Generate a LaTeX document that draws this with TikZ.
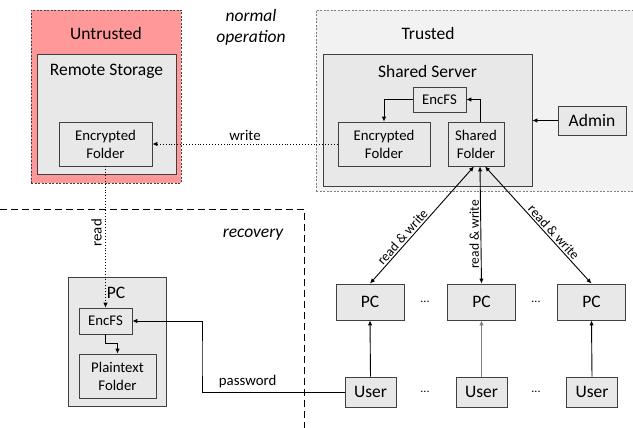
\documentclass[tikz,border=0pt]{standalone}
\usepackage{fontspec}
\setmainfont{Carlito}
\usepackage{xcolor}
\definecolor{ured}{RGB}{255,153,153}
\definecolor{tgray}{RGB}{242,242,242}
\definecolor{bgray}{RGB}{232,232,232}
\definecolor{dline}{RGB}{64,64,64}
\usepackage{tikz}
\usetikzlibrary{arrows.meta,positioning,calc}

\begin{document}
\begin{tikzpicture}[x=1pt,y=-1pt,
  big/.style={font=\fontsize{17.5}{21}\selectfont},
  small/.style={font=\fontsize{14.8}{18}\selectfont},
  tiny/.style={font=\fontsize{13.5}{16}\selectfont},
  box/.style={draw=dline,fill=bgray,line width=0.8pt,inner sep=0pt,align=center},
  arr/.style={-{Latex[length=5pt,width=4.5pt]},line width=0.9pt},
  biarr/.style={{Latex[length=5pt,width=4.5pt]}-{Latex[length=5pt,width=4.5pt]},line width=0.9pt}]
  \useasboundingbox (0,0) rectangle (633,428);
  \clip (0,0) rectangle (633,428);

  % zones
  \node[draw=gray,fill=tgray,dash pattern=on 2pt off 1.5pt,line width=0.9pt,
        minimum width=329,minimum height=181] (trusted) at (480.5,100.5) {};
  \node[big] (trustedlbl) at (428,33) {Trusted};
  \node[draw=dline,fill=ured,dash pattern=on 2pt off 1.5pt,line width=0.9pt,
        minimum width=150,minimum height=173] (untrusted) at (106,96.5) {};
  \node[big] (untrustedlbl) at (106,33) {Untrusted};
  \node[big,font=\fontsize{17.5}{21}\selectfont\itshape,align=center] (normal) at (251,27) {normal\\operation};
  \draw[line width=0.9pt,dash pattern=on 7pt off 4pt] (0,209) -- (304,209) -- (304,428);
  \node[big,font=\fontsize{17.5}{21}\selectfont\itshape] (recovery) at (253,235) {recovery};

  % remote storage
  \node[box,minimum width=139,minimum height=120] (remote) at (106.5,114) {};
  \node[big] (remotelbl) at (106.5,71) {Remote Storage};
  \node[box,small,minimum width=93,minimum height=44] (encU) at (105.5,144) {Encrypted\\Folder};

  % shared server
  \node[box,minimum width=209,minimum height=132] (server) at (427.5,120) {};
  \node[big] (serverlbl) at (427.5,71) {Shared Server};
  \node[box,small,minimum width=53,minimum height=25] (encfsS) at (439.5,99.5) {EncFS};
  \node[box,small,minimum width=92,minimum height=44] (encS) at (384,144) {Encrypted\\Folder};
  \node[box,small,minimum width=56,minimum height=44] (shared) at (476,144) {Shared\\Folder};
  \node[box,big,minimum width=68,minimum height=29] (admin) at (592,120.5) {Admin};

  % recovery PC
  \node[box,minimum width=98,minimum height=129] (pcR) at (117,341.5) {};
  \node[big] (pcRlbl) at (116,293) {PC};
  \node[box,small,minimum width=53,minimum height=26] (encfsR) at (105.5,321) {EncFS};
  \node[box,small,minimum width=77,minimum height=44] (plain) at (117.5,376) {Plaintext\\Folder};

  % clients
  \foreach \i/\x in {1/370,2/481.5,3/591.5} {
    \node[box,big,minimum width=68,minimum height=36] (pc\i) at (\x,302) {PC};
  }
  \foreach \i/\x in {1/370.5,2/481.5,3/592} {
    \node[box,big,minimum width=51,minimum height=30] (user\i) at (\x,392) {User};
  }
  \foreach \x/\y [count=\n] in {425/302,536/302,425/392,536/392} {
    \node[font=\fontsize{12}{14}\selectfont] (dots\n) at (\x,\y) {...};
  }

  % connectors
  \draw[arr] (admin.west) -- (admin.west -| server.east);
  \draw[arr] (encfsS.west) -| (encS.north);
  \draw[arr] ([xshift=4pt]shared.north) |- (encfsS.east);
  \draw[arr,dotted,line width=0.9pt] (encS.west) -- node[small,above] {write} (encU.east);
  \draw[arr,dotted,line width=0.9pt] (encU.south) -- node[small,rotate=90,above,pos=0.47] {read} (encfsR.north);
  \draw[arr] (encfsR.south) -- ++(0,9) -| (plain.north);
  \coordinate (pwbend) at (202,360);
  \draw[arr] (user1.west) -| node[small,above,pos=0.34] {password} (pwbend) |- (encfsR.east);

  \draw[biarr] ([xshift=-2pt]shared.south) -- node[tiny,sloped,above,pos=0.64,inner sep=1.5pt] {read \& write} (pc1.north);
  \draw[biarr] ([xshift=4pt]shared.south) -- node[tiny,rotate=90,above,pos=0.58,inner sep=1.5pt] {read \& write} (pc2.north);
  \draw[biarr] ([xshift=9pt]shared.south) -- node[tiny,sloped,above,pos=0.6,inner sep=1.5pt] {read \& write} (pc3.north);

  \draw[arr] (user1.north) -- (pc1.south);
  \draw[arr,gray] (user2.north) -- (pc2.south);
  \draw[arr] (user3.north) -- (pc3.south);
\end{tikzpicture}
\end{document}
